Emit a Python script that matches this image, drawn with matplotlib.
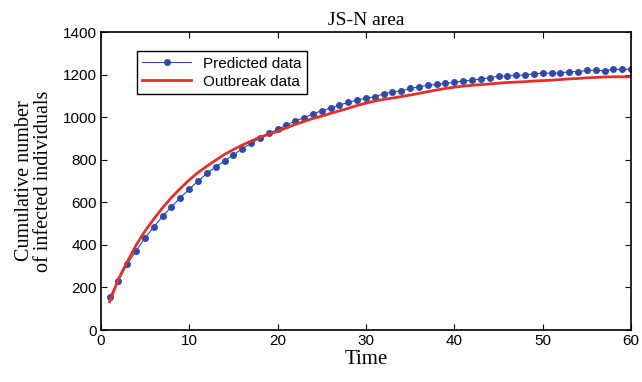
import numpy as np
import matplotlib
matplotlib.use("Agg")
import matplotlib.pyplot as plt

days = np.arange(1, 61)
predicted = [156, 232, 310, 372, 433, 484, 535, 579, 622, 661,
             700, 736, 767, 795, 823, 852, 877, 903, 924, 943,
             963, 982, 998, 1015, 1031, 1043, 1057, 1070, 1080, 1090,
             1096, 1110, 1118, 1124, 1135, 1143, 1150, 1154, 1159, 1164,
             1170, 1174, 1180, 1185, 1193, 1193, 1198, 1197, 1204, 1207,
             1207, 1207, 1214, 1214, 1220, 1220, 1218, 1225, 1225, 1225]
outbreak = [133, 240, 321, 399, 465, 522, 575, 623, 665, 705,
            740, 770, 798, 825, 848, 869, 888, 906, 920, 934,
            950, 966, 980, 994, 1005, 1018, 1030, 1042, 1055, 1066,
            1076, 1084, 1090, 1097, 1104, 1112, 1120, 1128, 1135, 1141,
            1146, 1150, 1153, 1156, 1160, 1163, 1165, 1167, 1170, 1172,
            1174, 1177, 1180, 1182, 1185, 1187, 1189, 1190, 1190, 1190]

serif = "Liberation Serif"
sans = "Liberation Sans"

fig = plt.figure(figsize=(6.42, 3.82), dpi=100)
ax = fig.add_axes([0.157, 0.136, 0.826, 0.780])

ax.plot(days, predicted, color="#2f4aa8", lw=0.8, marker="o", ms=4,
        label="Predicted data")
ax.plot(days, outbreak, color="#e3302a", lw=2.0, label="Outbreak data")

ax.set_xlim(0, 60)
ax.set_ylim(0, 1400)
ax.set_xticks(range(0, 61, 10))
ax.set_yticks(range(0, 1401, 200))
ax.tick_params(direction="in", top=True, right=True, length=4, width=0.8,
               labelsize=11, pad=3)
for lab in ax.get_xticklabels() + ax.get_yticklabels():
    lab.set_fontfamily(sans)
for s in ax.spines.values():
    s.set_linewidth(1.2)

ax.set_title("JS-N area", fontfamily=serif, fontsize=14, pad=5)
ax.set_xlabel("Time", fontfamily=serif, fontsize=15, labelpad=1)
ax.set_ylabel("Cumulative number\nof infected individuals", fontfamily=serif,
              fontsize=14.5, labelpad=7, linespacing=1.0)

leg = ax.legend(loc="upper left", bbox_to_anchor=(0.068, 0.935),
                prop={"family": sans, "size": 11}, fancybox=False,
                framealpha=1, edgecolor="black", borderpad=0.35,
                handlelength=3.2, labelspacing=0.25, borderaxespad=0)
leg.get_frame().set_linewidth(1.0)

fig.savefig("out.png", dpi=100)
